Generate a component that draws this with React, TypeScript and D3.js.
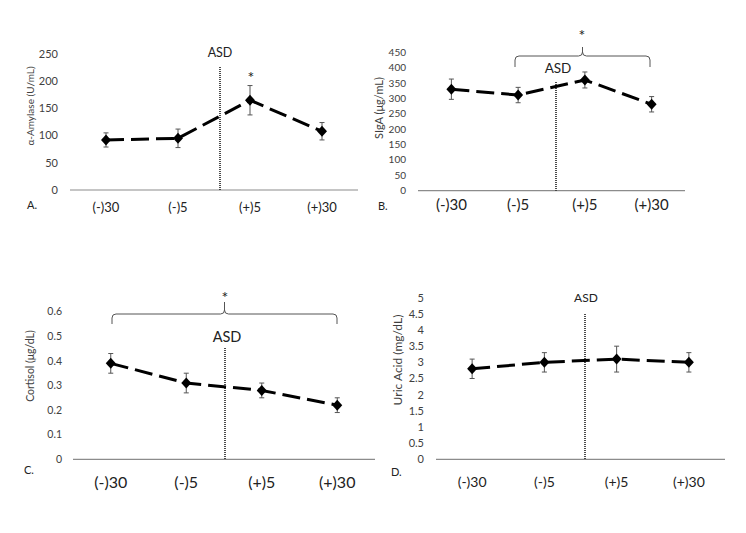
import React from "react";
import * as d3 from "d3";

const categories = ["(-)30", "(-)5", "(+)5", "(+)30"];

const amylaseMean = [92, 95, 165, 108];
const amylaseErr = [13, 17, 27, 16];
const amylaseTicks = [0, 50, 100, 150, 200, 250];

const sigaMean = [330, 311, 360, 281];
const sigaErr = [33, 25, 26, 25];
const sigaTicks = [0, 50, 100, 150, 200, 250, 300, 350, 400, 450];

const cortisolMean = [0.39, 0.31, 0.28, 0.22];
const cortisolErr = [0.04, 0.04, 0.03, 0.03];
const cortisolTicks = [0, 0.1, 0.2, 0.3, 0.4, 0.5, 0.6];

const uricMean = [2.8, 3.0, 3.1, 3.0];
const uricErr = [0.3, 0.3, 0.4, 0.3];
const uricTicks = [0, 0.5, 1, 1.5, 2, 2.5, 3, 3.5, 4, 4.5, 5];

const FONT = "Lato, 'Open Sans', sans-serif";

type PanelProps = {
  means: number[];
  errs: number[];
  ticks: number[];
  x0: number; x1: number; y0: number; yTop: number;
  tickLabelX: number; tickFont: number; xLabelFont: number; xLabelY: number;
  yLabel: string; yLabelX: number; yLabelY: number; yLabelFont: number;
  letter: string; letterX: number; letterY: number;
  asdX: number; asdTop: number; asdLabelX: number; asdLabelY: number;
  star?: [number, number];
  bracket?: { from: number; to: number; yEnd: number; yTop: number; yPeak: number };
  asdFont: number;
};

function Panel(p: PanelProps) {
  const xs = d3.scaleBand<string>().domain(categories).range([p.x0, p.x1]);
  const ys = d3.scaleLinear().domain([0, p.ticks[p.ticks.length - 1]]).range([p.y0, p.yTop]);
  const cx = (c: string) => (xs(c) as number) + xs.bandwidth() / 2;
  const line = d3.line<number>().x((_, i) => cx(categories[i])).y((v) => ys(v));
  const fmt = (t: number) => String(t);
  let bracketPath = "";
  if (p.bracket) {
    const b = p.bracket;
    const mid = (b.from + b.to) / 2;
    const r = 4;
    bracketPath =
      `M${b.from},${b.yEnd} L${b.from},${b.yTop + r} Q${b.from},${b.yTop} ${b.from + r},${b.yTop}` +
      ` L${mid - r},${b.yTop} Q${mid},${b.yTop} ${mid},${b.yTop - r} L${mid},${b.yPeak}` +
      ` M${mid},${b.yTop - r} Q${mid},${b.yTop} ${mid + r},${b.yTop} L${b.to - r},${b.yTop}` +
      ` Q${b.to},${b.yTop} ${b.to},${b.yTop + r} L${b.to},${b.yEnd}`;
  }
  return (
    <g fontFamily={FONT}>
      {p.ticks.map((t) => (
        <text key={t} x={p.tickLabelX} y={ys(t)} dy="0.35em" textAnchor="end" fontSize={p.tickFont} fill="#404040">
          {fmt(t)}
        </text>
      ))}
      <line x1={p.x0} x2={p.x1} y1={p.y0} y2={p.y0} stroke="#8c8c8c" strokeWidth={1.2} />
      {categories.map((c) => (
        <text key={c} x={cx(c)} y={p.xLabelY} dy="0.35em" textAnchor="middle" fontSize={p.xLabelFont} fill="#222">
          {c}
        </text>
      ))}
      <text
        transform={`translate(${p.yLabelX},${p.yLabelY}) rotate(-90)`}
        textAnchor="middle"
        dy="0.35em"
        fontSize={p.yLabelFont}
        fill="#404040"
      >
        {p.yLabel}
      </text>
      <text x={p.letterX} y={p.letterY} dy="0.35em" fontSize={11} fill="#222">{p.letter}</text>
      <line x1={p.asdX} x2={p.asdX} y1={p.asdTop} y2={p.y0} stroke="#111" strokeWidth={1.5} strokeDasharray="1,1" />
      <text x={p.asdLabelX} y={p.asdLabelY} dy="0.35em" textAnchor="middle" fontSize={p.asdFont} fill="#222">ASD</text>
      {p.means.map((m, i) => {
        const x = cx(categories[i]);
        const hi = ys(m + p.errs[i]);
        const lo = ys(m - p.errs[i]);
        return (
          <g key={i} stroke="#555" strokeWidth={1}>
            <line x1={x} x2={x} y1={hi} y2={lo} />
            <line x1={x - 2.5} x2={x + 2.5} y1={hi} y2={hi} />
            <line x1={x - 2.5} x2={x + 2.5} y1={lo} y2={lo} />
          </g>
        );
      })}
      <path d={line(p.means) || ""} fill="none" stroke="#000" strokeWidth={3} strokeDasharray="18,7" />
      {p.means.map((m, i) => {
        const x = cx(categories[i]);
        const y = ys(m);
        return <path key={i} d={`M${x},${y - 5.5} L${x + 5},${y} L${x},${y + 5.5} L${x - 5},${y} Z`} fill="#000" />;
      })}
      {p.bracket && <path d={bracketPath} fill="none" stroke="#555" strokeWidth={1} />}
      {p.star && (
        <text x={p.star[0]} y={p.star[1] + 9} textAnchor="middle" fontSize={16} fill="#222">*</text>
      )}
    </g>
  );
}

export default function App() {
  return (
    <svg width={746} height={533} style={{ position: "absolute", left: 0, top: 0, background: "#fff" }}>
      <rect width={746} height={533} fill="#fff" />
      <Panel
        means={amylaseMean} errs={amylaseErr} ticks={amylaseTicks}
        x0={70} x1={358} y0={190} yTop={54}
        tickLabelX={58} tickFont={11} xLabelFont={13} xLabelY={207}
        yLabel="α-Amylase (U/mL)" yLabelX={30} yLabelY={106} yLabelFont={10}
        letter="A." letterX={27} letterY={205}
        asdX={220} asdTop={67} asdLabelX={220} asdLabelY={53} asdFont={12.5}
        star={[251, 74]}
      />
      <Panel
        means={sigaMean} errs={sigaErr} ticks={sigaTicks}
        x0={418} x1={685} y0={190.7} yTop={52.3}
        tickLabelX={406} tickFont={10} xLabelFont={15} xLabelY={205}
        yLabel="SIgA (μg/mL)" yLabelX={379} yLabelY={108} yLabelFont={11}
        letter="B." letterX={378} letterY={206}
        asdX={556} asdTop={82} asdLabelX={558} asdLabelY={68} asdFont={13.5}
        star={[582, 32]}
        bracket={{ from: 515, to: 650, yEnd: 67, yTop: 56, yPeak: 47 }}
      />
      <Panel
        means={cortisolMean} errs={cortisolErr} ticks={cortisolTicks}
        x0={73} x1={375} y0={459.3} yTop={311.7}
        tickLabelX={62} tickFont={10.5} xLabelFont={16} xLabelY={482}
        yLabel="Cortisol (μg/dL)" yLabelX={30} yLabelY={366} yLabelFont={10.5}
        letter="C." letterX={24} letterY={470}
        asdX={225} asdTop={348} asdLabelX={227} asdLabelY={337} asdFont={14.5}
        star={[225, 294]}
        bracket={{ from: 112, to: 337, yEnd: 324, yTop: 314, yPeak: 302 }}
      />
      <Panel
        means={uricMean} errs={uricErr} ticks={uricTicks}
        x0={436} x1={725} y0={459.3} yTop={297.7}
        tickLabelX={424} tickFont={11} xLabelFont={14} xLabelY={482}
        yLabel="Uric Acid (mg/dL)" yLabelX={398} yLabelY={360} yLabelFont={12}
        letter="D." letterX={391} letterY={472}
        asdX={585} asdTop={314} asdLabelX={586} asdLabelY={298} asdFont={12}
      />
    </svg>
  );
}
